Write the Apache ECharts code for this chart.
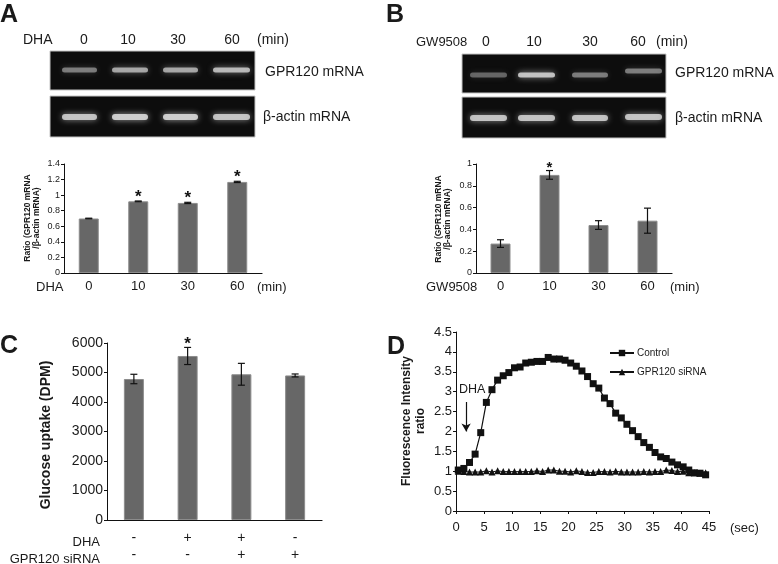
<!DOCTYPE html>
<html>
<head>
<meta charset="utf-8">
<script src="https://cdn.jsdelivr.net/npm/echarts@6/dist/echarts.min.js"></script>
<style>html,body{margin:0;padding:0;background:#fff;}#c{width:778px;height:564px;}</style>
</head>
<body>
<div id="c"></div>
<script>
// ---------- data ----------
const aCats = ['0', '10', '30', '60'];
const aRatio = [0.70, 0.92, 0.90, 1.17];
const aErr = [0.004, 0.005, 0.008, 0.008];
const aSig = [0, 1, 1, 1];
const aTicks = [0, 0.2, 0.4, 0.6, 0.8, 1, 1.2, 1.4];

const bCats = ['0', '10', '30', '60'];
const bRatio = [0.27, 0.90, 0.44, 0.48];
const bErr = [0.035, 0.04, 0.04, 0.115];
const bSig = [0, 1, 0, 0];
const bTicks = [0, 0.2, 0.4, 0.6, 0.8, 1];

const cDHA = ['-', '+', '+', '-'];
const cSiRNA = ['-', '-', '+', '+'];
const cUptake = [4780, 5560, 4940, 4900];
const cErr = [160, 290, 370, 50];
const cSig = [0, 1, 0, 0];
const cTicks = [0, 1000, 2000, 3000, 4000, 5000, 6000];

const dTime = [0.4, 1.4, 2.4, 3.4, 4.4, 5.4, 6.4, 7.4, 8.4, 9.4, 10.4, 11.4, 12.4, 13.4, 14.4, 15.4, 16.4, 17.4, 18.4, 19.4, 20.4, 21.4, 22.4, 23.4, 24.4, 25.4, 26.4, 27.4, 28.4, 29.4, 30.4, 31.4, 32.4, 33.4, 34.4, 35.4, 36.4, 37.4, 38.4, 39.4, 40.4, 41.4, 42.4, 43.4, 44.4];
const dControl = [1.03, 1.07, 1.22, 1.43, 1.97, 2.73, 3.05, 3.29, 3.40, 3.48, 3.60, 3.62, 3.72, 3.74, 3.76, 3.76, 3.86, 3.82, 3.82, 3.79, 3.72, 3.64, 3.52, 3.38, 3.20, 3.09, 2.84, 2.70, 2.46, 2.34, 2.18, 2.02, 1.87, 1.72, 1.60, 1.47, 1.36, 1.32, 1.23, 1.16, 1.11, 1.03, 0.96, 0.95, 0.91];
const dSiRNA = [1.0, 0.99, 0.98, 0.98, 0.98, 1.01, 0.98, 1.01, 0.99, 0.99, 0.99, 0.99, 0.99, 0.99, 1.01, 0.99, 1.03, 1.03, 1.0, 1.0, 0.98, 1.01, 0.99, 0.97, 0.97, 0.99, 0.99, 0.98, 1.0, 0.98, 0.98, 0.98, 0.98, 0.99, 0.98, 0.99, 0.99, 1.03, 1.02, 0.99, 1.0, 0.96, 0.96, 0.95, 0.96];
const dXTicks = [0, 5, 10, 15, 20, 25, 30, 35, 40, 45];
const dYTicks = [0, 0.5, 1, 1.5, 2, 2.5, 3, 3.5, 4, 4.5];

// gel band intensities (relative brightness per lane)
const gelAGpr = [0.5, 0.7, 0.7, 0.8];
const gelAActin = [0.85, 0.92, 0.92, 0.85];
const gelBGpr = [0.4, 0.85, 0.5, 0.5];
const gelBActin = [0.85, 0.85, 0.85, 0.85];

// ---------- helpers ----------
const FF = 'Liberation Sans, Arial, sans-serif';
const TXT = '#1a1a1a';

function errSeries(xi, yi, vals, errs, sig, starSize) {
  return {
    type: 'custom', xAxisIndex: xi, yAxisIndex: yi, z: 5,
    data: vals.map((v, i) => [i, v, errs[i], sig[i]]),
    renderItem: function (params, api) {
      const i = api.value(0), v = api.value(1), e = api.value(2), s = api.value(3);
      const top = api.coord([i, v + e]);
      const bot = api.coord([i, v - e]);
      const cap = 3.5;
      const st = { stroke: '#111', lineWidth: 1.2 };
      const ch = [
        { type: 'line', shape: { x1: top[0], y1: top[1], x2: bot[0], y2: bot[1] }, style: st },
        { type: 'line', shape: { x1: top[0] - cap, y1: top[1], x2: top[0] + cap, y2: top[1] }, style: st },
        { type: 'line', shape: { x1: bot[0] - cap, y1: bot[1], x2: bot[0] + cap, y2: bot[1] }, style: st }
      ];
      if (s) {
        ch.push({ type: 'text', x: top[0], y: top[1] + 5,
          style: { text: '*', font: 'bold ' + starSize + 'px ' + FF, fill: '#111', align: 'center', verticalAlign: 'bottom' } });
      }
      return { type: 'group', children: ch };
    }
  };
}

function txt(x, y, text, size, opts) {
  opts = opts || {};
  return {
    type: 'text', x: x, y: y, rotation: opts.rot || 0, z: 10,
    style: {
      text: text, font: (opts.bold ? 'bold ' : '') + size + 'px ' + FF, fill: opts.fill || TXT,
      align: opts.align || 'left', verticalAlign: opts.va || 'middle', lineHeight: opts.lh || size * 1.15
    }
  };
}

function gel(x, y, w, h, lanes, bandCy, bandH, intens) {
  const els = [{ type: 'rect', shape: { x: x, y: y, width: w, height: h }, style: { fill: '#0d0d0d', stroke: '#c4c4c4', lineWidth: 1 } }];
  lanes.forEach((ln, i) => {
    const a = intens[i];
    const cy = Array.isArray(bandCy) ? bandCy[i] : bandCy;
    els.push({ type: 'rect', shape: { x: ln[0], y: cy - bandH / 2, width: ln[1] - ln[0], height: bandH, r: bandH / 2 },
      style: { fill: 'rgba(215,215,215,' + a + ')', shadowBlur: 6, shadowColor: 'rgba(230,230,230,' + (a * 0.8) + ')' } });
  });
  return els;
}

function yAxisCfg(gi, ticks, size) {
  return {
    type: 'value', gridIndex: gi, min: ticks[0], max: ticks[ticks.length - 1], interval: ticks[1] - ticks[0],
    axisLine: { show: true, lineStyle: { color: '#111', width: 1 } },
    axisTick: { show: true, length: 3, lineStyle: { color: '#111' } },
    splitLine: { show: false },
    axisLabel: { fontSize: size, color: TXT, fontFamily: FF, margin: 4, formatter: v => String(v) }
  };
}
function xCatCfg(gi, cats, size, extra) {
  return Object.assign({
    type: 'category', gridIndex: gi, data: cats, boundaryGap: true,
    axisLine: { show: true, lineStyle: { color: '#111', width: 1.2 } },
    axisTick: { show: false },
    axisLabel: { fontSize: size, color: TXT, fontFamily: FF, margin: 7 }
  }, extra || {});
}
const barStyle = { color: '#676767', borderColor: '#8c8c8c', borderWidth: 1 };

// ---------- graphics ----------
let g = [];
// panel letters
g.push(txt(0, 15, 'A', 25, { bold: true }));
g.push(txt(386, 15, 'B', 25, { bold: true }));
g.push(txt(0, 346, 'C', 25, { bold: true }));
g.push(txt(387, 347, 'D', 25, { bold: true }));

// gels A
const lanesA = [[62, 97], [112, 148], [163, 198], [213, 250]];
g = g.concat(gel(50, 51, 205, 39, lanesA, 70, 5, gelAGpr));
g = g.concat(gel(50, 96, 205, 41, lanesA, 117, 6, gelAActin));
g.push(txt(23, 40, 'DHA', 14));
[['0', 84], ['10', 128], ['30', 178], ['60', 232]].forEach(p => g.push(txt(p[1], 40, p[0], 14, { align: 'center' })));
g.push(txt(257, 40, '(min)', 14));
g.push(txt(265, 72, 'GPR120 mRNA', 14));
g.push(txt(263, 117, 'β-actin mRNA', 14));

// gels B
const lanesB = [[470, 507], [518, 555], [572, 608], [625, 662]];
g = g.concat(gel(462, 54, 204, 39, lanesB, [75, 75, 75, 71], 5, gelBGpr));
g = g.concat(gel(462, 97, 204, 41, lanesB, [118, 118, 118, 117], 6, gelBActin));
g.push(txt(416, 42, 'GW9508', 13));
[['0', 486], ['10', 534], ['30', 590], ['60', 638]].forEach(p => g.push(txt(p[1], 42, p[0], 14, { align: 'center' })));
g.push(txt(656, 42, '(min)', 14));
g.push(txt(675, 73, 'GPR120 mRNA', 14));
g.push(txt(675, 118, 'β-actin mRNA', 14));

// A bar chart extras
g.push(txt(32, 218, 'Ratio (GPR120 mRNA\n/β-actin mRNA)', 8.5, { bold: true, rot: Math.PI / 2, align: 'center', lh: 9.5 }));
g.push(txt(36, 287, 'DHA', 13));
g.push(txt(257, 287, '(min)', 13));
// B bar chart extras
g.push(txt(443, 219, 'Ratio (GPR120 mRNA\n/β-actin mRNA)', 8.5, { bold: true, rot: Math.PI / 2, align: 'center', lh: 9.5 }));
g.push(txt(426, 287, 'GW9508', 13));
g.push(txt(670, 287, '(min)', 13));
// C extras
g.push(txt(46, 435, 'Glucose uptake (DPM)', 14, { bold: true, rot: Math.PI / 2, align: 'center' }));
g.push(txt(100, 542, 'DHA', 13, { align: 'right' }));
g.push(txt(100, 559, 'GPR120 siRNA', 13, { align: 'right' }));
// D extras
g.push(txt(414, 421, 'Fluorescence Intensity\nratio', 12, { bold: true, rot: Math.PI / 2, align: 'center', lh: 14 }));
g.push(txt(730, 528, '(sec)', 13));
g.push(txt(459, 390, 'DHA', 12.5));

// ---------- chart ----------
const chart = echarts.init(document.getElementById('c'), null, { renderer: 'canvas' });
const cCats = cDHA.map((d, i) => d + '\n' + cSiRNA[i]);

const option = {
  backgroundColor: '#fff',
  animation: false,
  textStyle: { fontFamily: FF },
  grid: [
    { left: 64, top: 164, width: 198, height: 109 },
    { left: 476, top: 164, width: 196, height: 109 },
    { left: 107, top: 343, width: 215, height: 183 },
    { left: 456, top: 332, width: 253, height: 179 }
  ],
  xAxis: [
    xCatCfg(0, aCats, 13),
    xCatCfg(1, bCats, 13),
    xCatCfg(2, cCats, 13, { axisLabel: { fontSize: 14, color: TXT, fontFamily: FF, margin: 10, lineHeight: 17 } }),
    {
      type: 'value', gridIndex: 3, min: dXTicks[0], max: dXTicks[dXTicks.length - 1], interval: dXTicks[1] - dXTicks[0],
      axisLine: { show: true, lineStyle: { color: '#111', width: 1 } },
      axisTick: { show: true, length: 3, lineStyle: { color: '#111' } },
      splitLine: { show: false },
      axisLabel: { fontSize: 13, color: TXT, fontFamily: FF, margin: 10 }
    }
  ],
  yAxis: [
    yAxisCfg(0, aTicks, 9),
    yAxisCfg(1, bTicks, 9),
    yAxisCfg(2, cTicks, 14),
    yAxisCfg(3, dYTicks, 13)
  ],
  legend: {
    left: 604, top: 343, orient: 'vertical', itemGap: 9, itemWidth: 24, itemHeight: 8,
    data: ['Control', 'GPR120 siRNA'],
    textStyle: { fontSize: 10, color: TXT, fontFamily: FF, padding: [0, 0, 0, -2] }
  },
  series: [
    { type: 'bar', xAxisIndex: 0, yAxisIndex: 0, data: aRatio, barWidth: 20, itemStyle: barStyle },
    errSeries(0, 0, aRatio, aErr, aSig, 17),
    { type: 'bar', xAxisIndex: 1, yAxisIndex: 1, data: bRatio, barWidth: 20, itemStyle: barStyle },
    errSeries(1, 1, bRatio, bErr, bSig, 15),
    { type: 'bar', xAxisIndex: 2, yAxisIndex: 2, data: cUptake, barWidth: 20, itemStyle: barStyle },
    errSeries(2, 2, cUptake, cErr, cSig, 17),
    {
      name: 'Control', type: 'line', xAxisIndex: 3, yAxisIndex: 3,
      data: dTime.map((t, i) => [t, dControl[i]]),
      symbol: 'rect', symbolSize: 7, showAllSymbol: true,
      lineStyle: { color: '#111', width: 1.2 }, itemStyle: { color: '#111' }, z: 4,
      markLine: {
        silent: true, symbol: ['none', 'arrow'], symbolSize: [7, 8],
        lineStyle: { color: '#111', width: 1.2, type: 'solid' }, label: { show: false },
        data: [[{ coord: [1.8, 2.74] }, { coord: [1.8, 2.0] }]]
      }
    },
    {
      name: 'GPR120 siRNA', type: 'line', xAxisIndex: 3, yAxisIndex: 3,
      data: dTime.map((t, i) => [t, dSiRNA[i]]),
      symbol: 'triangle', symbolSize: 7, showAllSymbol: true,
      lineStyle: { color: '#111', width: 1 }, itemStyle: { color: '#111' }, z: 3
    }
  ],
  graphic: { elements: g }
};
chart.setOption(option);
</script>
</body>
</html>
